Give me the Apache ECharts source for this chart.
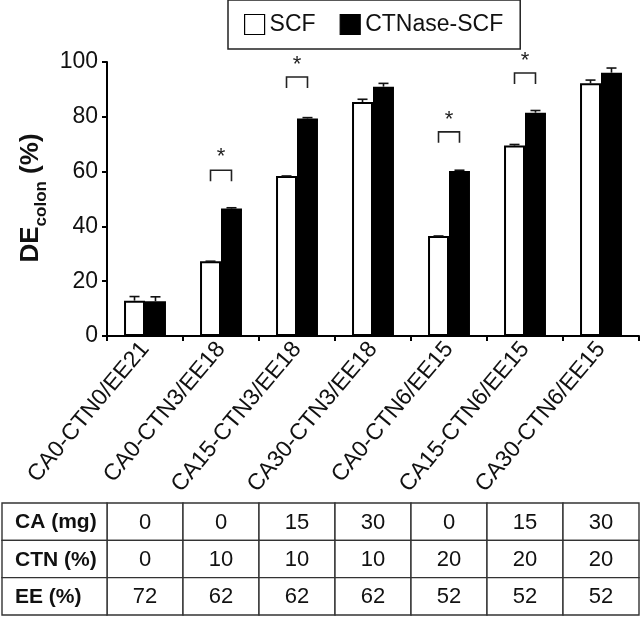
<!DOCTYPE html>
<html><head><meta charset="utf-8">
<script src="https://cdn.jsdelivr.net/npm/echarts@6/dist/echarts.min.js"></script>
<style>html,body{margin:0;padding:0;background:#fff}#c{width:642px;height:618px}</style>
</head><body><div id="c"></div>
<script>
const categories = ['CA0-CTN0/EE21','CA0-CTN3/EE18','CA15-CTN3/EE18','CA30-CTN3/EE18','CA0-CTN6/EE15','CA15-CTN6/EE15','CA30-CTN6/EE15'];
const scfValues = [12.9, 27.3, 58.4, 85.4, 36.5, 69.5, 92.2];
const scfErrors = [1.5, 0, 0, 1.0, 0, 0.4, 1.2];
const ctnValues = [12.7, 46.5, 79.4, 91.0, 60.2, 81.5, 96.1];
const ctnErrors = [1.6, 0.3, 0.3, 1.2, 0.3, 0.8, 1.7];
const sigCategories = [1, 2, 4, 5];
const sigBracketTops = [60.5, 94.5, 74.5, 96.0];
const sigStarLevels = [65.5, 99.0, 79.0, 100.5];
const tableRowHeaders = ['CA (mg)', 'CTN (%)', 'EE (%)'];
const caRow = [0, 0, 15, 30, 0, 15, 30];
const ctnRow = [0, 10, 10, 10, 20, 20, 20];
const eeRow = [72, 62, 62, 62, 52, 52, 52];

const FONT = 'Liberation Sans, Arial, Helvetica, sans-serif';
const BAR_FRAC = 0.276;
const chart = echarts.init(document.getElementById('c'), null, {renderer: 'canvas'});

function errorRender(sign) {
  return function (params, api) {
    const x = api.value(0), v = api.value(1), e = api.value(2);
    const base = api.coord([x, v]);
    const top = api.coord([x, v + e]);
    const bw = api.size([1, 0])[0] * BAR_FRAC;
    const cx = base[0] + sign * bw / 2;
    const st = {stroke: '#111', lineWidth: 1.6};
    return {type: 'group', children: [
      {type: 'line', shape: {x1: cx, y1: base[1], x2: cx, y2: top[1]}, style: st},
      {type: 'line', shape: {x1: cx - 5, y1: top[1], x2: cx + 5, y2: top[1]}, style: st}
    ]};
  };
}

function sigRender(params, api) {
  const x = api.value(0), t = api.value(1), s = api.value(2);
  const c = api.coord([x, t]);
  const sp = api.coord([x, s]);
  const bw = api.size([1, 0])[0] * BAR_FRAC;
  const leg = api.size([0, 4])[1];
  const l = c[0] - bw / 2, r = c[0] + bw / 2;
  return {type: 'group', children: [
    {type: 'polyline', shape: {points: [[l, c[1] + leg], [l, c[1]], [r, c[1]], [r, c[1] + leg]]},
     style: {stroke: '#222', lineWidth: 1.6, fill: null}},
    {type: 'text', x: c[0], y: sp[1],
     style: {text: '*', font: '22px ' + FONT, fill: '#222', align: 'center', verticalAlign: 'middle'}}
  ]};
}

const tableRows = [caRow, ctnRow, eeRow];
const tableData = {body: [], head: []};
tableRows.forEach((row, r) => row.forEach((v, c) => tableData.body.push([c, r, v])));
tableRowHeaders.forEach((h, r) => tableData.head.push([0, r, h]));

function cellRender(isHead) {
  return function (params, api) {
    const c = api.coord([api.value(0), api.value(1)]);
    const sz = api.size([1, 1]);
    const label = tableData[isHead ? 'head' : 'body'][params.dataIndex][2];
    return {type: 'group', children: [
      {type: 'rect', shape: {x: c[0] - sz[0] / 2, y: c[1] - sz[1] / 2, width: sz[0], height: sz[1]},
       style: {fill: '#fff', stroke: '#333', lineWidth: 1.4}},
      {type: 'text', x: isHead ? c[0] - sz[0] / 2 + 13 : c[0], y: c[1] + 1,
       style: {text: String(label), font: (isHead ? 'bold 21px ' : '22px ') + FONT, fill: '#111',
               align: isHead ? 'left' : 'center', verticalAlign: 'middle'}}
    ]};
  };
}

const option = {
  backgroundColor: '#fff',
  animation: false,
  textStyle: {fontFamily: FONT},
  legend: {
    data: [
      {name: 'SCF', itemStyle: {color: '#fff', borderColor: '#000', borderWidth: 1.2}},
      {name: 'CTNase-SCF', itemStyle: {color: '#000', borderColor: '#000', borderWidth: 1.2}}
    ],
    left: 228, top: 0,
    icon: 'rect', itemWidth: 20, itemHeight: 20, itemGap: 24,
    padding: [13, 17, 13, 16],
    borderColor: '#222', borderWidth: 1.5,
    textStyle: {fontSize: 23, color: '#111', fontFamily: FONT}
  },
  grid: [
    {left: 107, right: 3, top: 62, bottom: 282, containLabel: false},
    {left: 107, right: 3, top: 503, height: 112},
    {left: 2, width: 105, top: 503, height: 112}
  ],
  xAxis: [
    {type: 'category', data: categories, gridIndex: 0,
     axisLine: {lineStyle: {color: '#000', width: 2}},
     axisTick: {show: true, length: 5, lineStyle: {color: '#000', width: 2}},
     axisLabel: {rotate: 50, fontSize: 23, color: '#111', margin: 9, interval: 0, fontFamily: FONT}},
    {type: 'category', data: categories, gridIndex: 1, show: false},
    {type: 'category', data: ['h'], gridIndex: 2, show: false}
  ],
  yAxis: [
    {type: 'value', min: 0, max: 100, interval: 20, gridIndex: 0,
     axisLine: {show: true, lineStyle: {color: '#000', width: 2}},
     axisTick: {show: true, length: 5, lineStyle: {color: '#000', width: 2}},
     splitLine: {show: false},
     axisLabel: {fontSize: 23, color: '#111', margin: 9, fontFamily: FONT}},
    {type: 'category', data: ['0', '1', '2'], inverse: true, gridIndex: 1, show: false},
    {type: 'category', data: ['0', '1', '2'], inverse: true, gridIndex: 2, show: false}
  ],
  graphic: [{
    type: 'text', x: 31, y: 198, rotation: Math.PI / 2,
    style: {
      text: '{d|DE}{s|colon}{d| (%)}',
      align: 'center', verticalAlign: 'middle',
      rich: {
        d: {fontSize: 26, fontWeight: 'bold', fontFamily: FONT, fill: '#111', lineHeight: 30},
        s: {fontSize: 17, fontWeight: 'bold', fontFamily: FONT, fill: '#111', verticalAlign: 'bottom', lineHeight: 38}
      }
    }
  }],
  series: [
    {name: 'SCF', type: 'bar', data: scfValues, barWidth: (BAR_FRAC * 100) + '%', barGap: '0%',
     itemStyle: {color: '#fff', borderColor: '#000', borderWidth: 2}},
    {name: 'CTNase-SCF', type: 'bar', data: ctnValues, barWidth: (BAR_FRAC * 100) + '%', barGap: '0%',
     itemStyle: {color: '#000', borderColor: '#000', borderWidth: 2}},
    {type: 'custom', name: 'errSCF', renderItem: errorRender(-1), z: 5, clip: false,
     data: scfValues.map((v, i) => [i, v, scfErrors[i]])},
    {type: 'custom', name: 'errCTN', renderItem: errorRender(1), z: 5, clip: false,
     data: ctnValues.map((v, i) => [i, v, ctnErrors[i]])},
    {type: 'custom', name: 'sig', renderItem: sigRender, z: 6, clip: false,
     data: sigCategories.map((c, i) => [c, sigBracketTops[i], sigStarLevels[i]])},
    {type: 'custom', name: 'table', xAxisIndex: 1, yAxisIndex: 1, renderItem: cellRender(false),
     data: tableData.body},
    {type: 'custom', name: 'tableHead', xAxisIndex: 2, yAxisIndex: 2, renderItem: cellRender(true),
     data: tableData.head}
  ]
};
chart.setOption(option);
</script>
</body></html>
